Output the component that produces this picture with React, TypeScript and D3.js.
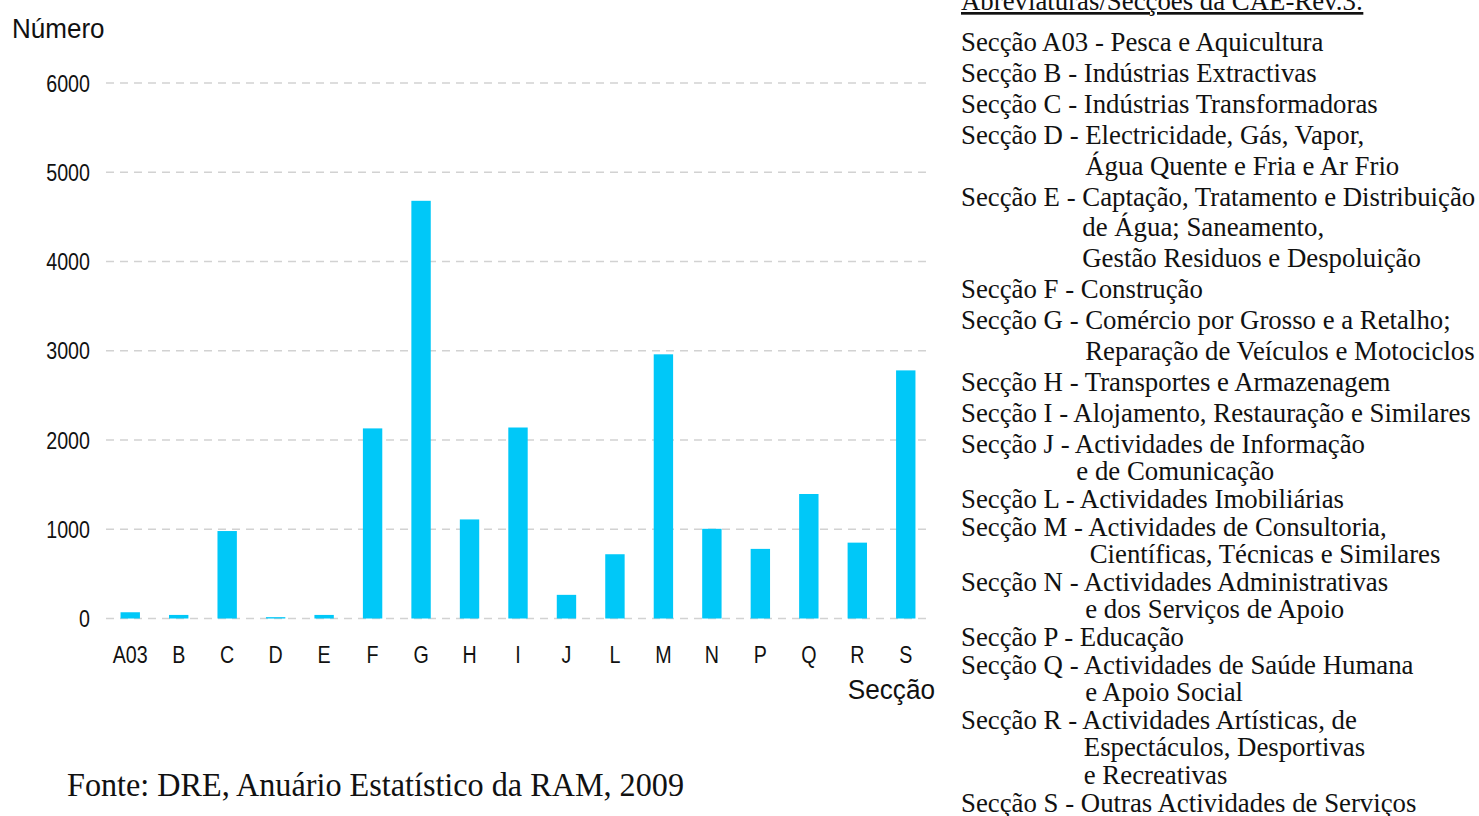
import React from "react";
import * as d3 from "d3";

const categories = ["A03", "B", "C", "D", "E", "F", "G", "H", "I", "J", "L", "M", "N", "P", "Q", "R", "S"];
const values = [70, 40, 980, 15, 40, 2130, 4680, 1110, 2140, 265, 720, 2960, 1005, 780, 1395, 850, 2780];
const yTicks = [0, 1000, 2000, 3000, 4000, 5000, 6000];

const legendTitle = "Abreviaturas/Secções da CAE-Rev.3:";
const legendCodes = ["A03", "B", "C", "D", "E", "F", "G", "H", "I", "J", "L", "M", "N", "P", "Q", "R", "S"];
const legendTexts: string[][] = [
  ["Pesca e Aquicultura"],
  ["Indústrias Extractivas"],
  ["Indústrias Transformadoras"],
  ["Electricidade, Gás, Vapor,", "Água Quente e Fria e Ar Frio"],
  ["Captação, Tratamento e Distribuição", "de Água; Saneamento,", "Gestão Residuos e Despoluição"],
  ["Construção"],
  ["Comércio por Grosso e a Retalho;", "Reparação de Veículos e Motociclos"],
  ["Transportes e Armazenagem"],
  ["Alojamento, Restauração e Similares"],
  ["Actividades de Informação", "e de Comunicação"],
  ["Actividades Imobiliárias"],
  ["Actividades de Consultoria,", "Científicas, Técnicas e Similares"],
  ["Actividades Administrativas", "e dos Serviços de Apoio"],
  ["Educação"],
  ["Actividades de Saúde Humana", "e Apoio Social"],
  ["Actividades Artísticas, de", "Espectáculos, Desportivas", "e Recreativas"],
  ["Outras Actividades de Serviços"],
];

const yTitle = "Número";
const xTitle = "Secção";
const source = "Fonte: DRE, Anuário Estatístico da RAM, 2009";

const SANS = "'Liberation Sans', Arial, sans-serif";
const SERIF = "'Liberation Serif', 'Times New Roman', serif";
const BAR = "#00c8f8";

let measureCtx: CanvasRenderingContext2D | null = null;
function textWidth(s: string, font: string) {
  if (!measureCtx) {
    const c = document.createElement("canvas");
    measureCtx = c.getContext("2d");
  }
  if (!measureCtx) return s.length * 12;
  measureCtx.font = font;
  return measureCtx.measureText(s).width;
}

export default function App() {
  const W = 1479, H = 816;
  const x = d3.scaleBand<string>().domain(categories).range([106, 930]).paddingInner(0.6).paddingOuter(0.3);
  const y = d3.scaleLinear().domain([0, 6000]).range([618.5, 83]);

  // legend lines
  const legX = 961;
  const legFontSize = 26.8;
  const legFont = `${legFontSize}px 'Liberation Serif'`;
  type Line = { text: string; x: number; idx: number };
  const lines: Line[] = [];
  legendCodes.forEach((code, k) => {
    const prefix = `Secção ${code} - `;
    const indent = textWidth(prefix, legFont);
    legendTexts[k].forEach((t, j) => {
      lines.push({ text: j === 0 ? prefix + t : t, x: j === 0 ? legX : legX + indent, idx: lines.length });
    });
  });
  const lineY = (i: number) => (i <= 13 ? 51 + i * 30.9 : 452.7 + (i - 13) * 27.6);

  return (
    <svg width={W} height={H} style={{ position: "absolute", left: 0, top: 0, background: "#fff" }}>
      <rect x={0} y={0} width={W} height={H} fill="#fff" />
      {/* gridlines */}
      {yTicks.map((t) => (
        <line key={"g" + t} x1={106} x2={930} y1={y(t)} y2={y(t)} stroke="#d2d2d2" strokeWidth={1.6} strokeDasharray="8,6" />
      ))}
      {/* bars */}
      {categories.map((c, i) => (
        <rect key={c} x={x(c)} width={x.bandwidth()} y={y(values[i])} height={y(0) - y(values[i])} fill={BAR} />
      ))}
      {/* y tick labels */}
      {yTicks.map((t) => (
        <text key={"yl" + t} transform={`translate(90,${y(t) + 8.5}) scale(0.82,1)`} textAnchor="end"
          fontFamily={SANS} fontSize={24} fill="#111">{t}</text>
      ))}
      {/* x tick labels */}
      {categories.map((c) => (
        <text key={"xl" + c} transform={`translate(${(x(c) as number) + x.bandwidth() / 2},663) scale(0.82,1)`} textAnchor="middle"
          fontFamily={SANS} fontSize={24} fill="#111">{c}</text>
      ))}
      <text transform="translate(12,38) scale(0.93,1)" fontFamily={SANS} fontSize={28} fill="#111">{yTitle}</text>
      <text transform="translate(935,699) scale(0.97,1)" textAnchor="end" fontFamily={SANS} fontSize={27} fill="#111">{xTitle}</text>
      {/* source */}
      <text x={67} y={796} fontFamily={SERIF} fontSize={33} textLength={617} lengthAdjust="spacingAndGlyphs" fill="#111">{source}</text>
      {/* legend */}
      <text x={legX} y={10} fontFamily={SERIF} fontSize={legFontSize} fill="#111" textDecoration="underline">{legendTitle}</text>
      {lines.map((l) => (
        <text key={"lg" + l.idx} x={l.x} y={lineY(l.idx)} fontFamily={SERIF} fontSize={legFontSize} fill="#111">{l.text}</text>
      ))}
    </svg>
  );
}
